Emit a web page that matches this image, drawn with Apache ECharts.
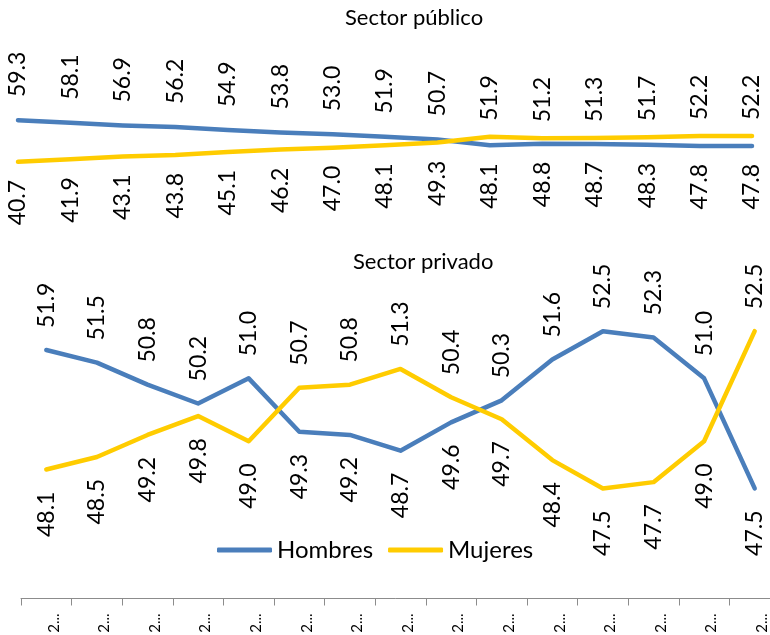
<!DOCTYPE html>
<html>
<head>
<meta charset="utf-8">
<title>Sector público / Sector privado</title>
<script src="https://cdn.jsdelivr.net/npm/echarts@6/dist/echarts.min.js"></script>
<style>
  html, body { margin: 0; padding: 0; background: #fff; }
  #chart { width: 770px; height: 635px; }
</style>
</head>
<body>
<div id="chart"></div>
<script>
// tick labels as shown (truncated in the source)
const categories = ['2...', '2...', '2...', '2...', '2...', '2...', '2...', '2...',
  '2...', '2...', '2...', '2...', '2...', '2...', '2...'];

const publicoHombres = [59.3, 58.1, 56.9, 56.2, 54.9, 53.8, 53.0, 51.9, 50.7, 48.1, 48.8, 48.7, 48.3, 47.8, 47.8];
const publicoMujeres = [40.7, 41.9, 43.1, 43.8, 45.1, 46.2, 47.0, 48.1, 49.3, 51.9, 51.2, 51.3, 51.7, 52.2, 52.2];
const privadoHombres = [51.9, 51.5, 50.8, 50.2, 51.0, 49.3, 49.2, 48.7, 49.6, 50.3, 51.6, 52.5, 52.3, 51.0, 47.5];
const privadoMujeres = [48.1, 48.5, 49.2, 49.8, 49.0, 50.7, 50.8, 51.3, 50.4, 49.7, 48.4, 47.5, 47.7, 49.0, 52.5];

const BLUE = '#4a7ebb';
const YELLOW = '#ffcc00';
const FONT = 'Lato';

// label goes above the line when this series is the higher one, below otherwise
function withLabels(own, other, gapUp, gapDown) {
  return own.map((v, i) => {
    const up = v >= other[i];
    return {
      value: v,
      label: up
        ? { position: 'top', distance: gapUp, align: 'left', verticalAlign: 'middle' }
        : { position: 'bottom', distance: gapDown, align: 'right', verticalAlign: 'middle' }
    };
  });
}

function lineSeries(name, color, data, axis) {
  return {
    name: name,
    type: 'line',
    xAxisIndex: axis,
    yAxisIndex: axis,
    data: data,
    symbol: 'circle',
    symbolSize: 0.1,
    lineStyle: { width: 4.5, color: color, cap: 'round', join: 'round' },
    itemStyle: { color: color },
    label: {
      show: true,
      rotate: 90,
      fontFamily: FONT,
      fontSize: 23,
      color: '#000',
      formatter: (p) => p.value.toFixed(1)
    },
    emphasis: { disabled: true }
  };
}

const chart = echarts.init(document.getElementById('chart'));
chart.setOption({
  animation: false,
  title: [
    {
      text: 'Sector público',
      left: 345,
      top: 7,
      padding: 0,
      textStyle: { fontFamily: FONT, fontSize: 22, fontWeight: 'normal', color: '#000' }
    },
    {
      text: 'Sector privado',
      left: 353,
      top: 251,
      padding: 0,
      textStyle: { fontFamily: FONT, fontSize: 22, fontWeight: 'normal', color: '#000' }
    }
  ],
  legend: {
    data: ['Hombres', 'Mujeres'],
    left: 217,
    top: 538,
    padding: 0,
    icon: 'roundRect',
    itemWidth: 55,
    itemHeight: 5,
    itemGap: 15,
    textStyle: { fontFamily: FONT, fontSize: 24, color: '#000' }
  },
  grid: [
    { left: 18, width: 734, top: 29, height: 224, containLabel: false, outerBoundsMode: 'none' },
    { left: 21, width: 759, top: 284, height: 314.5, containLabel: false, outerBoundsMode: 'none' }
  ],
  xAxis: [
    { gridIndex: 0, type: 'category', data: categories, boundaryGap: false, show: false },
    {
      gridIndex: 1,
      type: 'category',
      data: categories,
      boundaryGap: true,
      axisLine: { lineStyle: { color: '#8c8c8c', width: 1 } },
      axisTick: { show: true, length: 7, lineStyle: { color: '#8c8c8c' } },
      axisLabel: {
        interval: 0,
        rotate: 90,
        margin: 15,
        verticalAlign: 'top',
        fontFamily: FONT,
        fontSize: 15,
        color: '#000'
      }
    }
  ],
  yAxis: [
    { gridIndex: 0, type: 'value', min: 0, max: 100, show: false },
    { gridIndex: 1, type: 'value', min: 44, max: 54, show: false }
  ],
  series: [
    lineSeries('Hombres', BLUE, withLabels(publicoHombres, publicoMujeres, 23, 18), 0),
    lineSeries('Mujeres', YELLOW, withLabels(publicoMujeres, publicoHombres, 16, 18), 0),
    lineSeries('Hombres', BLUE, withLabels(privadoHombres, privadoMujeres, 22, 22), 1),
    lineSeries('Mujeres', YELLOW, withLabels(privadoMujeres, privadoHombres, 22, 22), 1)
  ]
});
</script>
</body>
</html>
